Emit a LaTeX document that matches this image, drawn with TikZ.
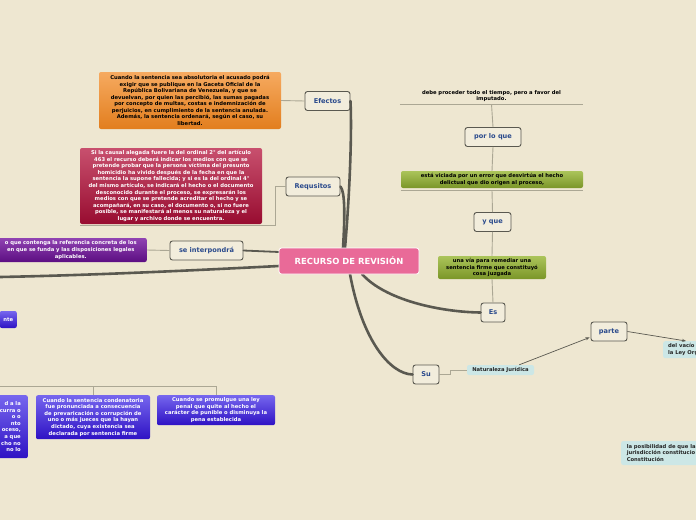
\documentclass[tikz,border=0pt]{standalone}
\usepackage{fontspec}
\newfontfamily\mapfont{DejaVu Sans}
\usetikzlibrary{positioning,calc,arrows.meta}

\definecolor{paper}{HTML}{EEE7D1}
\definecolor{topicfill}{HTML}{F2EDDC}
\definecolor{topicblue}{HTML}{2A4A8C}
\definecolor{branchgrey}{HTML}{5A5950}
\definecolor{twiggrey}{HTML}{ABA794}
\definecolor{rootpink}{HTML}{E96A98}
\definecolor{orangetop}{HTML}{F6AA60}
\definecolor{orangebot}{HTML}{E27E1E}
\definecolor{crimsontop}{HTML}{C8506E}
\definecolor{crimsonbot}{HTML}{980C30}
\definecolor{purpletop}{HTML}{9043B2}
\definecolor{purplebot}{HTML}{5C0E82}
\definecolor{bluetop}{HTML}{7666EE}
\definecolor{bluebot}{HTML}{2E12C4}
\definecolor{greentop}{HTML}{ABC45A}
\definecolor{greenbot}{HTML}{7B9628}
\definecolor{cyanfill}{HTML}{CCE7E6}

\newcommand{\notesize}{\fontsize{5.25}{6.55}\selectfont}

\tikzset{
  topic/.style={draw=branchgrey, line width=0.9pt, rounded corners=2.5pt, fill=topicfill,
    text=topicblue, font=\mapfont\bfseries\fontsize{6.6}{8}\selectfont,
    minimum height=19pt, inner sep=0pt},
  note/.style={rounded corners=2pt, font=\mapfont\bfseries\notesize, align=center, inner sep=2pt},
  orangenote/.style={note, top color=orangetop, bottom color=orangebot, text=black},
  crimsonnote/.style={note, top color=crimsontop, bottom color=crimsonbot, text=white},
  purplenote/.style={note, top color=purpletop, bottom color=purplebot, text=white},
  bluenote/.style={note, top color=bluetop, bottom color=bluebot, text=white},
  greennote/.style={note, top color=greentop, bottom color=greenbot, text=black},
  cyannote/.style={note, fill=cyanfill, text=black!85, align=left},
  branch/.style={draw=branchgrey, line width=2.6pt, line cap=round},
  twig/.style={draw=twiggrey, line width=0.9pt},
  pointer/.style={draw=branchgrey, line width=0.7pt, -{Stealth[length=4pt,width=3pt]}}
}

\begin{document}
\begin{tikzpicture}[x=1pt, y=-1pt]
  \fill[paper] (0,0) rectangle (696,520);
  \useasboundingbox (0,0) rectangle (696,520);
  \clip (0,0) rectangle (696,520);

  \coordinate (leftend) at (0,277);
  \coordinate (blueleft) at (0,386);

  \node[topic, minimum width=45pt] (efectos) at (327.5,101) {Efectos};
  \node[topic, minimum width=54pt] (requisitos) at (313,186.5) {Requsitos};
  \node[topic, minimum width=73pt] (interp) at (206.5,250.5) {se interpondrá};
  \node[topic, minimum width=56pt] (porloque) at (493,137) {por lo que};
  \node[topic, minimum width=37pt] (yque) at (492.5,222) {y que};
  \node[topic, minimum width=24pt] (es) at (493,312.5) {Es};
  \node[topic, minimum width=26pt] (su) at (426,374.5) {Su};
  \node[topic, minimum width=36pt] (parte) at (609,331.5) {parte};

  \draw[branch] (345,248) .. controls (350,190) and (352,130) .. (efectos.east);
  \draw[branch] (343,248) .. controls (345,215) and (345,192) .. (requisitos.east);
  \draw[branch, line width=1.8pt] (279,252) -- (interp.east);
  \draw[branch] (279,266) .. controls (200,270) and (100,275) .. (leftend);
  \draw[branch] (350,274) .. controls (362,340) and (390,374) .. (su.west);
  \draw[branch] (362,274) .. controls (385,300) and (440,312) .. (es.west);

  \node[fill=rootpink, draw=white, line width=0.8pt, rounded corners=2.5pt, text=white,
        font=\mapfont\bfseries\fontsize{8.4}{9}\selectfont,
        minimum width=140pt, minimum height=26pt, inner sep=0pt] (root) at (349,261)
        {RECURSO DE REVISIÓN};

  \node[orangenote, text width=178pt, minimum height=57pt] (orange) at (190,100.5)
    {Cuando la sentencia sea absolutoria el acusado podrá\\
     exigir que se publique en la Gaceta Oficial de la\\
     República Bolivariana de Venezuela, y que se\\
     devuelvan, por quien las percibió, las sumas pagadas\\
     por concepto de multas, costas e indemnización de\\
     perjuicios, en cumplimiento de la sentencia anulada.\\
     Además, la sentencia ordenará, según el caso, su\\
     libertad.};
  \draw[twig] (orange.east) -- (efectos.west);

  \node[crimsonnote, text width=178pt, minimum height=76pt] (crimson) at (171,186)
    {Si la causal alegada fuere la del ordinal 2° del artículo\\
     463 el recurso deberá indicar los medios con que se\\
     pretende probar que la persona víctima del presunto\\
     homicidio ha vivido después de la fecha en que la\\
     sentencia la supone fallecida; y si es la del ordinal 4°\\
     del mismo artículo, se indicará el hecho o el documento\\
     desconocido durante el proceso, se expresarán los\\
     medios con que se pretende acreditar el hecho y se\\
     acompañará, en su caso, el documento o, si no fuere\\
     posible, se manifestará al menos su naturaleza y el\\
     lugar y archivo donde se encuentra.};
  \draw[twig] (requisitos.west) -| ($(crimson.south east)+(13,1)$) -- ($(crimson.south west)+(0,1)$);

  \node[purplenote, text width=148pt, minimum height=24pt, anchor=east] (purple) at (147,250)
    {o que contenga la referencia concreta de los\\
     en que se funda y las disposiciones legales\\
     aplicables.};
  \draw[twig] (interp.west) -- (purple.east);

  \node[bluenote, anchor=east, minimum width=17pt, minimum height=17pt, inner sep=1pt] (bluente) at (17,319.5) {nte};

  \node[bluenote, text width=40pt, align=right, inner xsep=7pt, minimum height=63pt, anchor=north east] (blueA) at (28,395)
    {d a la\\ curra o\\ o o\\ nto\\ oceso,\\ a que\\ cho no\\ no lo};
  \node[bluenote, text width=110pt, minimum height=44pt, anchor=north] (blueB) at (93,395)
    {Cuando la sentencia condenatoria\\
     fue pronunciada a consecuencia\\
     de prevaricación o corrupción de\\
     uno o más jueces que la hayan\\
     dictado, cuya existencia sea\\
     declarada por sentencia firme};
  \node[bluenote, text width=114pt, minimum height=30pt, anchor=north] (blueC) at (216,395)
    {Cuando se promulgue una ley\\
     penal que quite al hecho el\\
     carácter de punible o disminuya la\\
     pena establecida};
  \draw[twig] (blueleft) -| (blueC.north);
  \draw[twig] (blueB.north) -- (blueB.north |- blueleft);

  \node[note, text=black, minimum width=183pt, minimum height=16pt] (debe) at (491.5,96)
    {debe proceder todo el tiempo, pero a favor del\\ imputado.};
  \node[greennote, text width=178pt, minimum height=17pt] (green1) at (492,179.5)
    {está viciada por un error que desvirtúa el hecho\\
     delictual que dio origen al proceso,};
  \node[greennote, text width=104pt, minimum height=23pt] (green2) at (492,267.5)
    {una vía para remediar una\\
     sentencia firme que constituyó\\
     cosa juzgada};
  \draw[twig] (debe.south west) -- (debe.south east);
  \draw[twig] ($(green1.south west)+(0,2)$) -- ($(green1.south east)+(0,2)$);
  \draw[twig] (es.north) -- (green2.south);
  \draw[twig] (green2.north) -- (yque.south);
  \draw[twig] (yque.north) -- ($(green1.south)+(0,2)$);
  \draw[twig] (green1.north) -- (porloque.south);
  \draw[twig] (porloque.north) -- (debe.south);

  \node[cyannote, align=center, minimum width=67pt, minimum height=10pt, inner sep=1pt] (natur) at (500.5,370)
    {Naturaleza Jurídica};
  \draw[twig] (su.east) -- ++(11,0) |- (natur.west);
  \draw[pointer] ($(natur.north east)+(-15,0)$) -- ($(parte.south west)+(-1,-4)$);

  \node[cyannote, anchor=north west, minimum width=40pt, minimum height=17pt] (delvacio) at (663,341)
    {del vacío\\ la Ley Org};
  \draw[pointer] (parte.east) -- ($(delvacio.north west)+(23,0)$);

  \node[cyannote, anchor=west, minimum width=80pt, minimum height=24pt] (posib) at (621,453)
    {la posibilidad de que la\\ jurisdicción constitucio\\ Constitución};
\end{tikzpicture}
\end{document}
